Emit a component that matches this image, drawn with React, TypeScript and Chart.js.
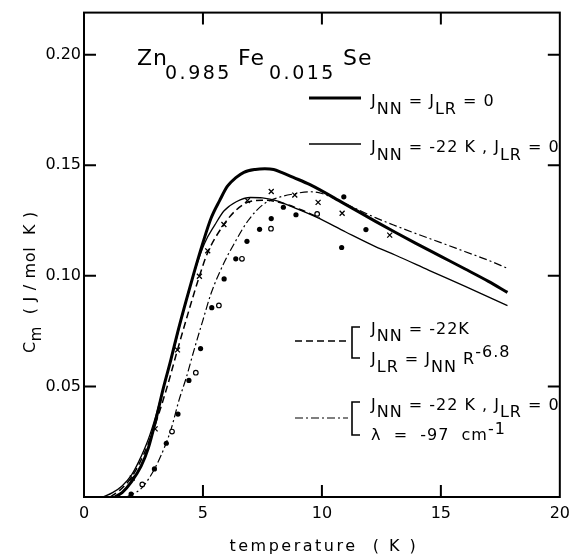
import React, { useEffect, useRef } from "react";
import { Chart, registerables } from "chart.js";

Chart.register(...registerables);

const FONT = "'DejaVu Sans', 'Liberation Sans', sans-serif";

// Axis ticks
const xTickValues = [0, 5, 10, 15, 20];
const xInnerTicks = [5, 10, 15];
const yTickValues = [0.05, 0.1, 0.15, 0.2];
const xMin = 0;
const xMax = 20;
const yMin = 0;
const yMax = 0.219;

// Curve: J_NN = J_LR = 0 (thick solid)
const thickX = [1.3, 1.6, 2.0, 2.4, 2.7, 3.0, 3.33, 3.65, 3.95, 4.3, 4.64, 5.0, 5.34, 5.7, 6.03, 6.4, 6.72, 7.2, 7.6, 7.97, 8.3, 8.8, 9.5, 10.88, 12.27, 13.1, 13.93, 15, 16, 17, 17.8];
const thickY = [0, 0.002, 0.007, 0.014, 0.022, 0.034, 0.049, 0.062, 0.075, 0.089, 0.102, 0.115, 0.126, 0.134, 0.1405, 0.1445, 0.1468, 0.1481, 0.1484, 0.1481, 0.1468, 0.1445, 0.1412, 0.133, 0.1245, 0.1196, 0.1148, 0.1088, 0.1032, 0.0975, 0.0925];

// Curve: J_NN = -22 K, J_LR = 0 (thin solid)
const thinX = [0.8, 1.2, 1.6, 2.0, 2.3, 2.7, 3.0, 3.33, 3.78, 4.37, 5.06, 5.5, 5.89, 6.4, 7.0, 7.5, 8.11, 8.9, 9.77, 11.0, 12.27, 13.1, 14.5, 16, 17.8];
const thinY = [0, 0.002, 0.005, 0.01, 0.016, 0.026, 0.036, 0.049, 0.067, 0.092, 0.1145, 0.123, 0.1294, 0.1335, 0.1354, 0.1352, 0.1339, 0.1305, 0.1265, 0.1198, 0.1131, 0.1093, 0.1025, 0.0953, 0.0865];

// Curve: J_NN = -22 K, J_LR = J_NN R^-6.8 (dashed)
const dashX = [1.1, 1.5, 2.0, 2.5, 3.0, 3.5, 3.93, 4.4, 4.85, 5.2, 5.88, 6.4, 6.9, 7.5, 8.1, 8.6, 9.2, 9.9];
const dashY = [0, 0.003, 0.009, 0.019, 0.033, 0.05, 0.0665, 0.084, 0.0998, 0.1105, 0.1232, 0.1298, 0.1333, 0.1342, 0.1335, 0.132, 0.1295, 0.1262];

// Curve: J_NN = -22 K, J_LR = 0, lambda = -97 cm^-1 (dash-dot)
const dotDashX = [1.8, 2.42, 2.98, 3.44, 3.67, 4.0, 4.3, 4.64, 5.0, 5.34, 5.89, 6.31, 6.9, 7.55, 8.2, 8.8, 9.49, 10.0, 10.6, 11.5, 12.27, 13.1, 13.93, 15, 16, 17, 17.8];
const dotDashY = [0, 0.004, 0.013, 0.024, 0.031, 0.044, 0.054, 0.067, 0.08, 0.092, 0.106, 0.1145, 0.125, 0.1324, 0.1355, 0.137, 0.138, 0.1372, 0.1345, 0.13, 0.1262, 0.1226, 0.1192, 0.115, 0.111, 0.107, 0.1034];

// Measured points: crosses
const crossX = [2.03, 2.99, 3.93, 4.85, 5.2, 5.88, 6.87, 7.87, 8.86, 9.84, 10.85, 12.85];
const crossY = [0.0086, 0.0308, 0.0665, 0.0998, 0.1113, 0.1232, 0.134, 0.1381, 0.1365, 0.1332, 0.1283, 0.1184];

// Measured points: filled dots
const dotX = [1.98, 2.96, 3.46, 3.95, 4.41, 4.9, 5.37, 5.89, 6.38, 6.85, 7.38, 7.87, 8.38, 8.91, 10.92, 11.85, 10.83];
const dotY = [0.0013, 0.0127, 0.0243, 0.0375, 0.0527, 0.0671, 0.0856, 0.0986, 0.1077, 0.1156, 0.121, 0.1259, 0.131, 0.1276, 0.1357, 0.1209, 0.1128];

// Measured points: open circles
const openX = [2.45, 3.7, 4.7, 5.67, 6.64, 7.86, 9.8];
const openY = [0.0057, 0.0296, 0.0562, 0.0866, 0.1077, 0.1213, 0.128];

const zip = (xs: number[], ys: number[]) => xs.map((x, i) => ({ x, y: ys[i] }));

type Run = [string, "n" | "s" | "p"];

function drawRich(
  ctx: CanvasRenderingContext2D,
  x: number,
  y: number,
  runs: Run[],
  size: number,
  small: number,
  subDy: number,
  supDy: number,
  ls: number
) {
  let cx = x;
  for (const [t, k] of runs) {
    const s = k === "n" ? size : small;
    ctx.font = `${s}px ${FONT}`;
    (ctx as any).letterSpacing = `${ls}px`;
    const dy = k === "s" ? subDy : k === "p" ? -supDy : 0;
    ctx.fillText(t, cx, y + dy);
    cx += ctx.measureText(t).width;
  }
  return cx;
}

const decorPlugin = {
  id: "decor",
  afterDraw(chart: any) {
    const ctx: CanvasRenderingContext2D = chart.ctx;
    const a = chart.chartArea;
    const xs = chart.scales.x;
    const ys = chart.scales.y;
    ctx.save();
    ctx.strokeStyle = "#000";
    ctx.fillStyle = "#000";
    ctx.lineWidth = 2;
    ctx.strokeRect(a.left, a.top, a.right - a.left, a.bottom - a.top);
    const tl = 12;
    ctx.beginPath();
    for (const v of xInnerTicks) {
      const px = xs.getPixelForValue(v);
      ctx.moveTo(px, a.bottom);
      ctx.lineTo(px, a.bottom - tl);
      ctx.moveTo(px, a.top);
      ctx.lineTo(px, a.top + tl);
    }
    for (const v of yTickValues) {
      const py = ys.getPixelForValue(v);
      ctx.moveTo(a.left, py);
      ctx.lineTo(a.left + tl, py);
      ctx.moveTo(a.right, py);
      ctx.lineTo(a.right - tl, py);
    }
    ctx.stroke();

    ctx.textAlign = "left";
    ctx.textBaseline = "alphabetic";

    // Title formula
    const tRuns: [string, number, number, boolean][] = [
      ["Zn", 137, 65, false],
      ["0.985", 165, 79, true],
      ["Fe", 238, 65, false],
      ["0.015", 269, 79, true],
      ["Se", 343, 65, false],
    ];
    for (const [t, x, y, sub] of tRuns) {
      ctx.font = `${sub ? 19 : 22}px ${FONT}`;
      (ctx as any).letterSpacing = sub ? "2.5px" : "1px";
      ctx.fillText(t, x, y);
    }

    // Legend lines
    const seg = (x1: number, x2: number, y: number, w: number, dash: number[]) => {
      ctx.save();
      ctx.lineWidth = w;
      ctx.setLineDash(dash);
      ctx.beginPath();
      ctx.moveTo(x1, y);
      ctx.lineTo(x2, y);
      ctx.stroke();
      ctx.restore();
    };
    seg(309, 361, 98, 3, []);
    seg(309, 361, 144, 1.3, []);
    seg(295, 348, 341, 1.5, [7, 4]);
    seg(295, 348, 418, 1.2, [8, 3, 2, 3]);

    const bracket = (x: number, y1: number, y2: number) => {
      ctx.save();
      ctx.lineWidth = 1.6;
      ctx.beginPath();
      ctx.moveTo(x + 8, y1);
      ctx.lineTo(x, y1);
      ctx.lineTo(x, y2);
      ctx.lineTo(x + 8, y2);
      ctx.stroke();
      ctx.restore();
    };
    bracket(352, 327, 358);
    bracket(352, 402, 435);

    const S = 16;
    const SS = 16;
    drawRich(ctx, 371, 106, [["J", "n"], ["NN", "s"], [" = J", "n"], ["LR", "s"], [" = 0", "n"]], S, SS, 8, 0, 1);
    drawRich(ctx, 371, 152, [["J", "n"], ["NN", "s"], [" = -22 K , J", "n"], ["LR", "s"], [" = 0", "n"]], S, SS, 8, 0, 1);
    drawRich(ctx, 371, 334, [["J", "n"], ["NN", "s"], [" = -22K", "n"]], S, SS, 7, 0, 1);
    drawRich(ctx, 371, 364, [["J", "n"], ["LR", "s"], [" = J", "n"], ["NN", "s"], [" R", "n"], ["-6.8", "p"]], S, SS, 8, 7, 1);
    drawRich(ctx, 371, 410, [["J", "n"], ["NN", "s"], [" = -22 K , J", "n"], ["LR", "s"], [" = 0", "n"]], S, SS, 7, 0, 1);
    drawRich(ctx, 371, 440, [["λ  =  -97  cm", "n"], ["-1", "p"]], S, SS, 0, 6, 1);

    // X title
    ctx.font = `16px ${FONT}`;
    (ctx as any).letterSpacing = "2.5px";
    ctx.textAlign = "center";
    ctx.fillText("temperature  ( K )", (a.left + a.right) / 2 + 2, 551);
    ctx.textAlign = "left";

    // Y title
    ctx.save();
    ctx.translate(35, 353);
    ctx.rotate(-Math.PI / 2);
    drawRich(ctx, 0, 0, [["C", "n"], ["m", "s"], ["  ( J / mol  K )", "n"]], 16, 15, 6, 0, 0.7);
    ctx.restore();

    ctx.restore();
  },
};

export default function App() {
  const ref = useRef<HTMLCanvasElement | null>(null);
  useEffect(() => {
    if (!ref.current) return;
    const lineBase = {
      showLine: true,
      pointRadius: 0,
      borderColor: "#000",
      backgroundColor: "#000",
      cubicInterpolationMode: "monotone" as const,
      order: 2,
    };
    const chart = new Chart(ref.current, {
      type: "scatter",
      data: {
        datasets: [
          { ...lineBase, label: "J_NN = J_LR = 0", data: zip(thickX, thickY), borderWidth: 3 },
          { ...lineBase, label: "J_NN = -22 K, J_LR = 0", data: zip(thinX, thinY), borderWidth: 1.3 },
          { ...lineBase, label: "J_LR = J_NN R^-6.8", data: zip(dashX, dashY), borderWidth: 1.5, borderDash: [7, 4] },
          { ...lineBase, label: "lambda = -97 cm^-1", data: zip(dotDashX, dotDashY), borderWidth: 1.2, borderDash: [8, 3, 2, 3] },
          { label: "crosses", data: zip(crossX, crossY), pointStyle: "crossRot", pointRadius: 3.5, borderWidth: 1.3, borderColor: "#000", backgroundColor: "#000", showLine: false, order: 1 },
          { label: "dots", data: zip(dotX, dotY), pointStyle: "circle", pointRadius: 2.6, borderWidth: 0, borderColor: "#000", backgroundColor: "#000", showLine: false, order: 1 },
          { label: "open", data: zip(openX, openY), pointStyle: "circle", pointRadius: 2.3, borderWidth: 1.2, borderColor: "#000", backgroundColor: "#fff", showLine: false, order: 1 },
        ],
      },
      options: {
        animation: false,
        responsive: false,
        maintainAspectRatio: false,
        devicePixelRatio: 1,
        layout: { padding: { left: 0, top: 5, right: 11, bottom: 0 } },
        plugins: { legend: { display: false }, tooltip: { enabled: false } },
        scales: {
          x: {
            type: "linear",
            min: xMin,
            max: xMax,
            grid: { display: false, drawTicks: false },
            border: { display: false },
            afterBuildTicks: (s: any) => {
              s.ticks = xTickValues.map((v) => ({ value: v }));
            },
            afterFit: (s: any) => {
              s.height = 61;
            },
            ticks: {
              color: "#000",
              font: { family: FONT, size: 16 },
              padding: 7,
              maxRotation: 0,
              autoSkip: false,
              callback: (v: any) => String(v),
            },
          },
          y: {
            type: "linear",
            min: yMin,
            max: yMax,
            grid: { display: false, drawTicks: false },
            border: { display: false },
            afterBuildTicks: (s: any) => {
              s.ticks = yTickValues.map((v) => ({ value: v }));
            },
            afterFit: (s: any) => {
              s.width = 84;
            },
            ticks: {
              color: "#000",
              font: { family: FONT, size: 16 },
              padding: 3,
              autoSkip: false,
              callback: (v: any) => Number(v).toFixed(2),
            },
          },
        },
      },
      plugins: [decorPlugin],
    } as any);
    return () => chart.destroy();
  }, []);
  return (
    <div style={{ position: "absolute", left: 0, top: 0, width: 577, height: 558, background: "#fff" }}>
      <canvas ref={ref} width={577} height={558} style={{ display: "block", width: 577, height: 558 }} />
    </div>
  );
}
